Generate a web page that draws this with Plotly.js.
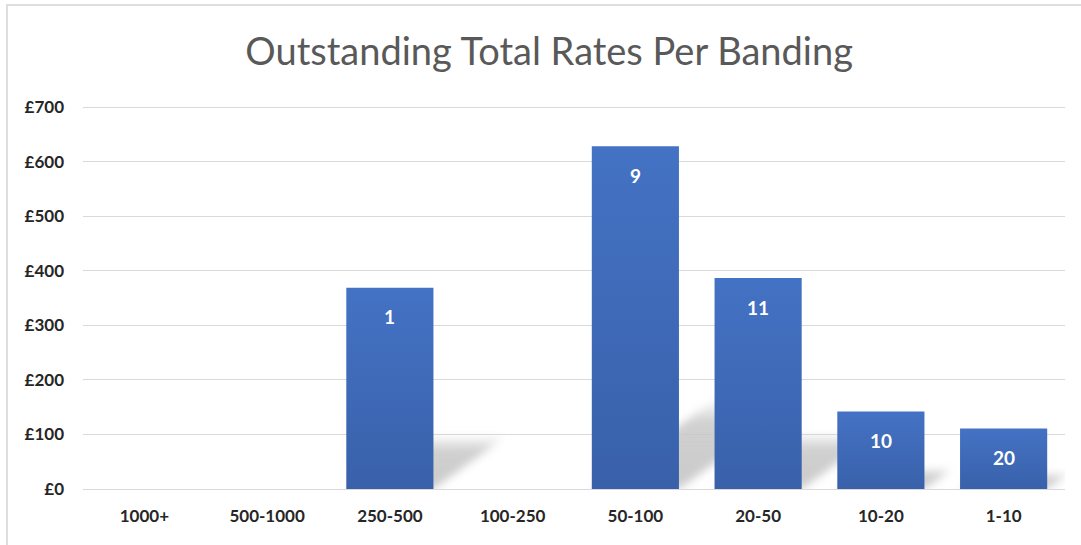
<!DOCTYPE html>
<html>
<head>
<meta charset="utf-8">
<script src="https://cdn.plot.ly/plotly-3.0.1.min.js"></script>
<style>
  html, body { margin: 0; padding: 0; background: #fff; }
  #wrap { position: relative; width: 1081px; height: 545px; overflow: hidden; }
  #frame { position: absolute; left: 6px; top: 4px; width: 1100px; height: 600px;
           border-left: 2px solid #dedede; border-top: 2px solid #dedede; box-sizing: border-box; }
  #chart { position: absolute; left: 0; top: 0; width: 1081px; height: 545px; }
</style>
</head>
<body>
<div id="wrap">
  <div id="frame"></div>
  <div id="chart"></div>
</div>
<script>
const categories = ['1000+', '500-1000', '250-500', '100-250', '50-100', '20-50', '10-20', '1-10'];
const totals = [0, 0, 369, 0, 629, 387, 142, 111];
const counts = ['', '', '1', '', '9', '11', '10', '20'];
const yTickVals = [0, 100, 200, 300, 400, 500, 600, 700];
const yTickText = ['£0', '£100', '£200', '£300', '£400', '£500', '£600', '£700'];
const chartTitle = 'Outstanding Total Rates Per Banding';

const FONT = 'Lato, "Open Sans", sans-serif';

const trace = {
  type: 'bar',
  x: categories,
  y: totals,
  marker: { color: '#4070BE', line: { width: 0 } },
  hoverinfo: 'x+y'
};

const annotations = categories.map((c, i) => ({
  x: c, y: totals[i], xref: 'x', yref: 'y',
  text: counts[i] ? '<b>' + counts[i] + '</b>' : '',
  showarrow: false, yshift: -29,
  font: { family: FONT, size: 19, color: '#ffffff' }
})).filter(a => a.text);

const layout = {
  width: 1081, height: 545,
  margin: { l: 83, r: 16, t: 102, b: 56 },
  paper_bgcolor: 'rgba(0,0,0,0)',
  plot_bgcolor: 'rgba(0,0,0,0)',
  showlegend: false,
  bargap: 0.29,
  title: {
    text: chartTitle,
    font: { family: FONT, size: 38, color: '#595959' },
    x: 0.508, xanchor: 'center', y: 0.905, yanchor: 'middle'
  },
  xaxis: {
    type: 'category',
    tickfont: { family: FONT, size: 17, color: '#262626', weight: 'bold' },
    showgrid: false, zeroline: false,
    showline: true, linecolor: '#d9d9d9', linewidth: 1,
    ticks: '', ticklabelstandoff: 12
  },
  yaxis: {
    range: [0, 710],
    tickvals: yTickVals, ticktext: yTickText,
    tickfont: { family: FONT, size: 17, color: '#262626', weight: 'bold' },
    showgrid: true, gridcolor: '#d9d9d9', gridwidth: 1,
    zeroline: false, showline: false,
    ticks: '', ticklabelstandoff: 18
  },
  annotations: annotations
};

Plotly.newPlot('chart', [trace], layout, { displayModeBar: false, staticPlot: true }).then(gd => {
  const svg = gd.querySelector('svg.main-svg');
  const ns = 'http://www.w3.org/2000/svg';
  const defs = svg.querySelector('defs');

  const grad = document.createElementNS(ns, 'linearGradient');
  grad.setAttribute('id', 'barGrad');
  grad.setAttribute('x1', '0'); grad.setAttribute('y1', '0');
  grad.setAttribute('x2', '0'); grad.setAttribute('y2', '1');
  [['0', '#4472C4'], ['1', '#3961AA']].forEach(([o, c]) => {
    const s = document.createElementNS(ns, 'stop');
    s.setAttribute('offset', o); s.setAttribute('stop-color', c);
    grad.appendChild(s);
  });
  defs.appendChild(grad);

  const sgrad = document.createElementNS(ns, 'linearGradient');
  sgrad.setAttribute('id', 'shadowGrad');
  sgrad.setAttribute('x1', '0'); sgrad.setAttribute('y1', '1');
  sgrad.setAttribute('x2', '0'); sgrad.setAttribute('y2', '0');
  [['0', '#c8c8c8', '0.95'], ['0.75', '#c8c8c8', '0.85'], ['1', '#d8d8d8', '0.2']].forEach(([o, c, op]) => {
    const s = document.createElementNS(ns, 'stop');
    s.setAttribute('offset', o); s.setAttribute('stop-color', c); s.setAttribute('stop-opacity', op);
    sgrad.appendChild(s);
  });
  defs.appendChild(sgrad);

  const filt = document.createElementNS(ns, 'filter');
  filt.setAttribute('id', 'shadowBlur');
  filt.setAttribute('x', '-30%'); filt.setAttribute('y', '-30%');
  filt.setAttribute('width', '160%'); filt.setAttribute('height', '160%');
  const blur = document.createElementNS(ns, 'feGaussianBlur');
  blur.setAttribute('stdDeviation', '4');
  filt.appendChild(blur);
  defs.appendChild(filt);

  const barPaths = gd.querySelectorAll('.barlayer .bars .point path');
  const barlayer = gd.querySelector('.barlayer');
  const shadowG = document.createElementNS(ns, 'g');
  shadowG.setAttribute('class', 'bar-shadows');
  barlayer.insertBefore(shadowG, barlayer.firstChild);

  barPaths.forEach(p => {
    p.style.fill = 'url(#barGrad)';
    const bb = p.getBBox();
    if (bb.height < 2) return;
    const x0 = bb.x, x1 = bb.x + bb.width, yb = bb.y + bb.height;
    const h = 0.26 * bb.height, dx = 1.38 * h;
    const poly = document.createElementNS(ns, 'path');
    poly.setAttribute('d', `M${x0},${yb} L${x1},${yb} L${x1 + dx},${yb - h} L${x0 + dx},${yb - h} Z`);
    poly.setAttribute('fill', 'url(#shadowGrad)');
    poly.setAttribute('filter', 'url(#shadowBlur)');
    shadowG.appendChild(poly);
  });
});
</script>
</body>
</html>
